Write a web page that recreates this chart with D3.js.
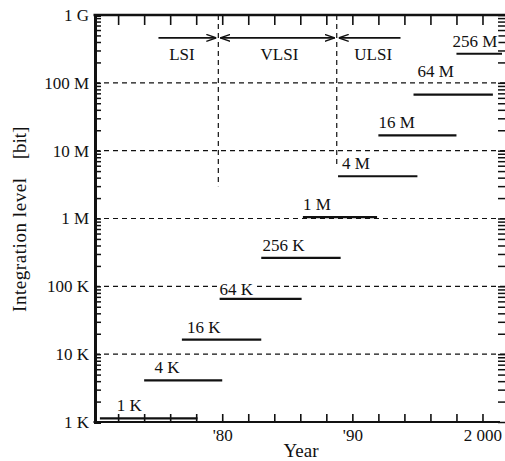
<!DOCTYPE html>
<html>
<head>
<meta charset="utf-8">
<script src="https://cdn.jsdelivr.net/npm/d3@7"></script>
<style>
  body { margin: 0; background: #fff; }
  svg { display: block; }
</style>
</head>
<body>
<svg id="chart" width="505" height="461"></svg>
<script>
// ──────────────────────────────────────────────────────────────────────────────
// Data

const generations = ['1 K', '4 K', '16 K', '64 K', '256 K', '1 M', '4 M', '16 M', '64 M', '256 M'];
const bits        = [1024, 4096, 16384, 65536, 262144, 1048576, 4194304, 16777216, 67108864, 268435456];
const startYear   = [1970.6, 1974.0, 1976.9, 1979.8, 1983.0, 1986.2, 1988.9, 1992.0, 1994.7, 1998.0];
const endYear     = [1978.1, 1980.0, 1983.0, 1986.1, 1989.1, 1991.9, 1995.0, 1998.0, 2000.8, 2001.5];
const labelYear   = [1971.9, 1974.8, 1977.3, 1979.8, 1983.1, 1986.2, 1989.2, 1992.0, 1995.0, 1997.7];

const eras        = ['LSI', 'VLSI', 'ULSI'];
const eraBounds   = [1975.1, 1979.7, 1988.8, 1993.7];
const eraLabelYear = [1976.9, 1984.4, 1991.6];
const eraArrowLevel = 4.6e8;
const eraLineEnd  = [3.0e6, 5.6e6];   // lower end of the dashed era dividers

const yTickValues = [1e3, 1e4, 1e5, 1e6, 1e7, 1e8, 1e9];
const yTickLabels = ['1 K', '10 K', '100 K', '1 M', '10 M', '100 M', '1 G'];
const xTickValues = d3.range(1972, 2001, 2);
const xLabelYears = [1980, 1990, 2000];
const xLabels     = ["'80", "'90", '2 000'];

// ──────────────────────────────────────────────────────────────────────────────

const serif = 'Liberation Serif';
const ink = '#111';
const svg = d3.select('#chart')
  .attr('font-family', serif)
  .attr('fill', ink);
const plotLeft = 95, plotRight = 505, plotTop = 15, plotBottom = 422;

const x = d3.scaleLinear().domain([1970.3, 2001.5]).range([96, 502]);
const y = d3.scaleLog().domain([1e3, 1e9]).range([plotBottom, plotTop]);

// minor log ticks (1..9 per decade)
const minorTicks = [];
for (let e = 3; e < 9; e++) for (let m = 1; m < 10; m++) minorTicks.push(m * 10 ** e);
minorTicks.push(1e9);

// dashed gridlines at inner decades
svg.append('g')
  .selectAll('line')
  .data(yTickValues.slice(1, -1))
  .join('line')
  .attr('x1', plotLeft).attr('x2', plotRight)
  .attr('y1', d => y(d)).attr('y2', d => y(d))
  .attr('stroke', ink)
  .attr('stroke-width', 1.2)
  .attr('stroke-dasharray', '5,4');

// left axis
const yLabel = new Map(yTickValues.map((v, i) => [v, yTickLabels[i]]));
const gLeft = svg.append('g')
  .attr('transform', `translate(${plotLeft},0)`)
  .call(d3.axisLeft(y).tickValues(minorTicks).tickSize(-6).tickPadding(6)
    .tickFormat(d => yLabel.get(d) ?? ''));
gLeft.attr('font-family', serif).attr('font-size', 17);
gLeft.select('.domain').attr('stroke', ink).attr('stroke-width', 3);
gLeft.selectAll('.tick line').attr('stroke', ink).attr('stroke-width', 1.5);
gLeft.selectAll('.tick text').attr('fill', ink);

// right ticks (no visible spine)
const gRight = svg.append('g')
  .attr('transform', `translate(${plotRight},0)`)
  .call(d3.axisRight(y).tickValues(minorTicks).tickSize(-7).tickFormat(''));
gRight.select('.domain').remove();
gRight.selectAll('.tick line').attr('stroke', ink).attr('stroke-width', 1.5);

// top border with downward ticks
const gTop = svg.append('g')
  .attr('transform', `translate(0,${plotTop})`)
  .call(d3.axisTop(x).tickValues(xTickValues).tickSize(-10).tickFormat(''));
gTop.select('.domain').remove();
gTop.selectAll('.tick line').attr('stroke', ink).attr('stroke-width', 1.6);
svg.append('line')
  .attr('x1', plotLeft - 1.5).attr('x2', plotRight)
  .attr('y1', plotTop).attr('y2', plotTop)
  .attr('stroke', ink).attr('stroke-width', 2.5);

// bottom axis with upward ticks
const xLabel = new Map(xLabelYears.map((v, i) => [v, xLabels[i]]));
const gBottom = svg.append('g')
  .attr('transform', `translate(0,${plotBottom})`)
  .call(d3.axisBottom(x).tickValues(xTickValues).tickSize(-8).tickPadding(7)
    .tickFormat(d => xLabel.get(d) ?? ''));
gBottom.attr('font-family', serif).attr('font-size', 17);
gBottom.select('.domain').remove();
gBottom.selectAll('.tick line').attr('stroke', ink).attr('stroke-width', 1.6);
gBottom.selectAll('.tick text').attr('fill', ink);
svg.append('line')
  .attr('x1', plotLeft - 1.5).attr('x2', 500)
  .attr('y1', plotBottom).attr('y2', plotBottom)
  .attr('stroke', ink).attr('stroke-width', 2.2);

// era dividers
svg.append('g')
  .selectAll('line')
  .data(eraBounds.slice(1, 3))
  .join('line')
  .attr('x1', d => x(d)).attr('x2', d => x(d))
  .attr('y1', plotTop).attr('y2', (d, i) => y(eraLineEnd[i]))
  .attr('stroke', ink)
  .attr('stroke-width', 1.2)
  .attr('stroke-dasharray', '5,4');

// era arrows
const defs = svg.append('defs');
defs.append('marker')
  .attr('id', 'arrow')
  .attr('viewBox', '0 -4 10 8')
  .attr('refX', 10).attr('refY', 0)
  .attr('markerWidth', 10).attr('markerHeight', 8)
  .attr('markerUnits', 'userSpaceOnUse')
  .attr('orient', 'auto-start-reverse')
  .append('path')
  .attr('d', 'M0,-3.5L10,0L0,3.5')
  .attr('fill', 'none').attr('stroke', ink).attr('stroke-width', 1.3);

const ay = y(eraArrowLevel);
eras.forEach((name, i) => {
  const x0 = x(eraBounds[i]) + (i > 0 ? 2 : 0);
  const x1 = x(eraBounds[i + 1]) - (i < 2 ? 2 : 0);
  svg.append('line')
    .attr('x1', x0).attr('x2', x1).attr('y1', ay).attr('y2', ay)
    .attr('stroke', ink).attr('stroke-width', 1.8)
    .attr('marker-start', i > 0 ? 'url(#arrow)' : null)
    .attr('marker-end', i < 2 ? 'url(#arrow)' : null);
  svg.append('text')
    .attr('x', x(eraLabelYear[i])).attr('y', ay + 22)
    .attr('text-anchor', 'middle')
    .attr('font-family', serif)
    .attr('font-size', 17)
    .text(name);
});

// generation bars
const gens = generations.map((g, i) => ({
  name: g, bits: bits[i], start: startYear[i], end: endYear[i], lx: labelYear[i]
}));
const lineY = d => y(d.bits) - (d.bits < 2000 ? 3 : 0);
const labelGap = d => (d.name === '64 M' ? 18 : d.name === '64 K' ? 4 : 7);

// labels sit on a white patch so the dashed grid breaks behind them
const labels = svg.append('g')
  .selectAll('g')
  .data(gens)
  .join('g');
labels.append('text')
  .attr('x', d => x(d.lx))
  .attr('y', d => lineY(d) - labelGap(d))
  .attr('font-family', serif)
  .attr('font-size', 17)
  .text(d => d.name);
labels.each(function () {
  const t = d3.select(this).select('text');
  const b = t.node().getBBox();
  d3.select(this).insert('rect', 'text')
    .attr('x', b.x - 1).attr('y', b.y + 2)
    .attr('width', b.width + 2).attr('height', b.height - 5)
    .attr('fill', '#fff');
});

svg.append('g')
  .selectAll('line')
  .data(gens)
  .join('line')
  .attr('x1', d => x(d.start)).attr('x2', d => x(d.end))
  .attr('y1', lineY).attr('y2', lineY)
  .attr('stroke', ink)
  .attr('stroke-width', 2.2);

// axis titles
svg.append('text')
  .attr('x', 301).attr('y', 457)
  .attr('text-anchor', 'middle')
  .attr('font-family', serif)
  .attr('font-size', 19)
  .text('Year');

svg.append('text')
  .attr('transform', 'translate(26,245) rotate(-90)')
  .attr('text-anchor', 'middle')
  .attr('font-family', serif)
  .attr('font-size', 19)
  .attr('textLength', 134)
  .attr('lengthAdjust', 'spacing')
  .text('Integration level');

svg.append('text')
  .attr('transform', 'translate(26,143) rotate(-90)')
  .attr('text-anchor', 'middle')
  .attr('font-family', serif)
  .attr('font-size', 19)
  .text('[bit]');
</script>
</body>
</html>
